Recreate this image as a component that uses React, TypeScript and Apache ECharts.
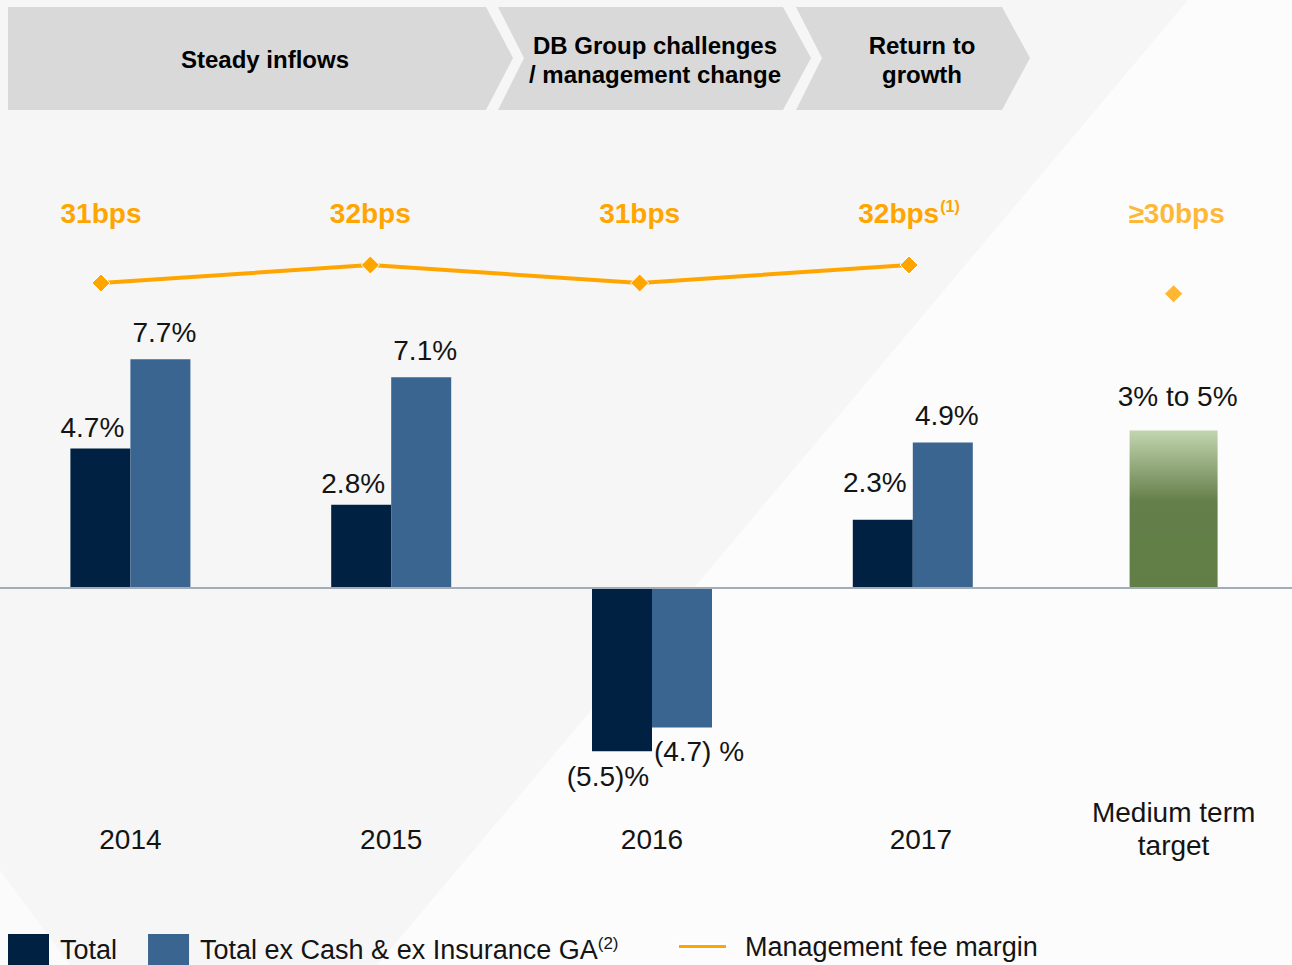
import React, { useEffect, useRef } from 'react';
import * as echarts from 'echarts';

const W = 1292;
const H = 965;

// ---------- data ----------
const CATEGORIES = ['2014', '2015', '2016', '2017', 'Medium term\ntarget'];
const TOTAL = [4.7, 2.8, -5.5, 2.3, null];
const TOTAL_EX = [7.7, 7.1, -4.7, 4.9, null];
const TARGET_BAR = [null, null, null, null, 5.3];
const TARGET_LABEL = '3% to 5%';
const FEE_YEARS = ['2014', '2015', '2016', '2017'];
const FEE_MARGIN = [31, 32, 31, 32];
const FEE_NOTES = ['', '', '', '(1)'];
const FEE_TARGET = [null, null, null, null, 30.4];
const FEE_TARGET_LABEL = '≥30bps';
const PHASES = ['Steady inflows', 'DB Group challenges\n/ management change', 'Return to\ngrowth'];
const SERIES_NAMES = ['Total', 'Total ex Cash & ex Insurance GA', 'Management fee margin'];
const LEGEND_NOTE = '(2)';

// ---------- layout ----------
const ZERO_Y = 588;
const PCT_PX = 29.7;
const PCT_MIN = -6;
const PCT_MAX = 15;
const GRID_TOP = ZERO_Y - PCT_MAX * PCT_PX;
const GRID_H = (PCT_MAX - PCT_MIN) * PCT_PX;
const GRID_BOTTOM = GRID_TOP + GRID_H;
const YEAR_LABEL_Y = 839;
const BPS_PX = 18;
const BPS_REF = 31;
const BPS_REF_Y = 283;
const BPS_MAX = BPS_REF + (BPS_REF_Y - GRID_TOP) / BPS_PX;
const BPS_MIN = BPS_REF - (GRID_BOTTOM - BPS_REF_Y) / BPS_PX;
const BPS_LABEL_LEVEL = 34;

const NAVY = '#002142';
const STEEL = '#3a6591';
const ORANGE = '#ffa500';
const FONT = '"Liberation Sans", Arial, sans-serif';
const TXT = '#141414';

const fmtPct = (v: number, spaced: boolean) =>
  v < 0 ? `(${Math.abs(v)})${spaced ? ' ' : ''}%` : `${v}%`;

function buildOption() {
  const totalData = TOTAL.map((v, i) => {
    if (v == null) return null;
    const item: any = { value: v };
    if (v < 0) item.label = { position: 'bottom', offset: [-14, 0], distance: 11 };
    else if (i === 3) item.label = { distance: 23 };
    return item;
  });
  const exData = TOTAL_EX.map((v) => {
    if (v == null) return null;
    const item: any = { value: v };
    if (v < 0) item.label = { position: 'bottom', offset: [17, 0], distance: 10 };
    return item;
  });
  const feeData = FEE_MARGIN.map((v, i) => ({
    value: v,
    label: {
      distance: (BPS_LABEL_LEVEL - v) * BPS_PX - 9,
      formatter: FEE_NOTES[i] ? `{b|${v}bps}{s|${FEE_NOTES[i]}}` : `{b|${v}bps}`,
    },
  }));
  const feeTargetData = FEE_TARGET.map((v) =>
    v == null
      ? null
      : { value: v, label: { distance: (BPS_LABEL_LEVEL - v) * BPS_PX - 9 } }
  );

  const bpsRich = {
    b: { fontFamily: FONT, fontSize: 28, fontWeight: 'bold', color: ORANGE, lineHeight: 30 },
    s: { fontFamily: FONT, fontSize: 16, fontWeight: 'bold', color: ORANGE, lineHeight: 30, verticalAlign: 'top', padding: [0, 0, 0, 1] },
  };

  const barLabel = {
    show: true,
    position: 'top',
    fontFamily: FONT,
    fontSize: 28,
    color: TXT,
  };

  const bannerPolys = [
    [[8, 7], [486, 7], [513, 58], [486, 110], [8, 110]],
    [[498, 7], [783, 7], [811, 58], [783, 110], [498, 110], [524, 58]],
    [[796, 7], [1002, 7], [1030, 58], [1002, 110], [796, 110], [822, 58]],
  ];
  const bannerText = [
    [265, 59],
    [655, 60],
    [922, 60],
  ];

  const graphic: any[] = [
    {
      type: 'polygon',
      z: -10,
      silent: true,
      shape: { points: [[0, 0], [1188, 0], [0, 1414]] },
      style: { fill: '#f6f6f6' },
    },
    {
      type: 'polygon',
      z: -10,
      silent: true,
      shape: { points: [[0, 870], [70, H], [0, H]] },
      style: { fill: '#fbfbfb' },
    },
    ...bannerPolys.map((pts) => ({
      type: 'polygon',
      silent: true,
      shape: { points: pts },
      style: { fill: '#d9d9d9' },
    })),
    ...PHASES.map((t, i) => ({
      type: 'text',
      silent: true,
      x: bannerText[i][0],
      y: bannerText[i][1],
      style: {
        text: t,
        fontFamily: FONT,
        fontSize: 24,
        fontWeight: 'bold',
        fill: '#000',
        align: 'center',
        verticalAlign: 'middle',
        lineHeight: 29,
      },
    })),
  ];

  const axisRich = {
    y: { fontFamily: FONT, fontSize: 28, color: TXT, lineHeight: 33 },
    g: { width: 16, height: 10 },
    p: { height: 20, lineHeight: 20 },
  };

  return {
    animation: false,
    backgroundColor: '#fcfcfc',
    graphic,
    legend: [
      {
        left: 8,
        top: 934,
        padding: 0,
        itemWidth: 41,
        itemHeight: 36,
        itemGap: 31,
        icon: 'rect',
        data: [SERIES_NAMES[0], SERIES_NAMES[1]],
        formatter: (n: string) => (n === SERIES_NAMES[1] ? `{n|${n}}{s|${LEGEND_NOTE}}` : `{n|${n}}`),
        textStyle: {
          fontFamily: FONT,
          fontSize: 27,
          color: TXT,
          padding: [0, 0, 4, 6],
          rich: {
            n: { fontFamily: FONT, fontSize: 27, color: TXT, lineHeight: 30 },
            s: { fontFamily: FONT, fontSize: 17, color: TXT, lineHeight: 30, verticalAlign: 'top' },
          },
        },
      },
      {
        left: 677,
        top: 933,
        padding: 0,
        itemWidth: 49,
        itemHeight: 5,
        data: [{ name: SERIES_NAMES[2], icon: 'rect', itemStyle: { color: ORANGE } }],
        textStyle: { fontFamily: FONT, fontSize: 27, color: TXT, padding: [0, 0, 0, 13] },
      },
    ],
    grid: [
      { left: 0, top: GRID_TOP, width: 1304, height: GRID_H, containLabel: false, outerBoundsMode: 'none' },
      { left: 101, top: GRID_TOP, width: 808, height: GRID_H, containLabel: false, outerBoundsMode: 'none' },
    ],
    xAxis: [
      {
        type: 'category',
        gridIndex: 0,
        data: CATEGORIES,
        axisLine: { onZero: true, lineStyle: { color: '#a3adb7', width: 2 } },
        axisTick: { show: false },
        axisLabel: {
          margin: YEAR_LABEL_Y - GRID_BOTTOM,
          verticalAlign: 'middle',
          interval: 0,
          formatter: (v: string, i: number) => {
            if (i === 3) return `{g|}{y|${v}}`;
            if (v.includes('\n')) return v.split('\n').map((s) => `{y|${s}}`).join('\n') + '\n{p|}';
            return `{y|${v}}`;
          },
          rich: axisRich,
        },
        z: 5,
      },
      {
        type: 'category',
        gridIndex: 0,
        data: CATEGORIES,
        show: false,
      },
      {
        type: 'category',
        gridIndex: 1,
        data: FEE_YEARS,
        boundaryGap: false,
        show: false,
      },
    ],
    yAxis: [
      { type: 'value', gridIndex: 0, min: PCT_MIN, max: PCT_MAX, show: false, splitLine: { show: false } },
      { type: 'value', gridIndex: 0, min: BPS_MIN, max: BPS_MAX, show: false, splitLine: { show: false } },
      { type: 'value', gridIndex: 1, min: BPS_MIN, max: BPS_MAX, show: false, splitLine: { show: false } },
    ],
    series: [
      {
        name: SERIES_NAMES[0],
        type: 'bar',
        xAxisIndex: 0,
        yAxisIndex: 0,
        barWidth: 60,
        barGap: '0%',
        data: totalData,
        itemStyle: { color: NAVY },
        label: { ...barLabel, offset: [-8, 0], distance: 7, formatter: (p: any) => fmtPct(p.value, false) },
      },
      {
        name: SERIES_NAMES[1],
        type: 'bar',
        xAxisIndex: 0,
        yAxisIndex: 0,
        barWidth: 60,
        barGap: '0%',
        data: exData,
        itemStyle: { color: STEEL },
        label: { ...barLabel, offset: [4, 0], distance: 13, formatter: (p: any) => fmtPct(p.value, true) },
      },
      {
        name: 'Medium term target',
        type: 'bar',
        xAxisIndex: 1,
        yAxisIndex: 0,
        barWidth: 88,
        data: TARGET_BAR,
        itemStyle: {
          color: new echarts.graphic.LinearGradient(0, 0, 0, 1, [
            { offset: 0, color: '#c3d5af' },
            { offset: 0.45, color: '#647f49' },
            { offset: 1, color: '#617e46' },
          ]),
        },
        label: { ...barLabel, offset: [4, 0], distance: 20, formatter: () => TARGET_LABEL },
      },
      {
        name: SERIES_NAMES[2],
        type: 'line',
        xAxisIndex: 2,
        yAxisIndex: 2,
        data: feeData,
        symbol: 'diamond',
        symbolSize: 18,
        lineStyle: { color: ORANGE, width: 4 },
        itemStyle: { color: ORANGE, borderColor: '#fff', borderWidth: 1 },
        label: { show: true, position: 'top', rich: bpsRich },
        z: 6,
      },
      {
        name: 'Fee target',
        type: 'scatter',
        xAxisIndex: 0,
        yAxisIndex: 1,
        data: feeTargetData,
        symbol: 'diamond',
        symbolSize: 18,
        itemStyle: { color: ORANGE, borderColor: '#fff', borderWidth: 1 },
        label: { show: true, position: 'top', formatter: `{b|${FEE_TARGET_LABEL}}`, offset: [3, 0], rich: bpsRich },
        z: 6,
      },
    ],
  };
}

export default function App() {
  const ref = useRef<HTMLDivElement>(null);
  useEffect(() => {
    if (!ref.current) return;
    const chart = echarts.init(ref.current, null, { renderer: 'svg' });
    chart.setOption(buildOption() as any);
    return () => chart.dispose();
  }, []);
  return <div ref={ref} style={{ position: 'absolute', left: 0, top: 0, width: W, height: H }} />;
}
